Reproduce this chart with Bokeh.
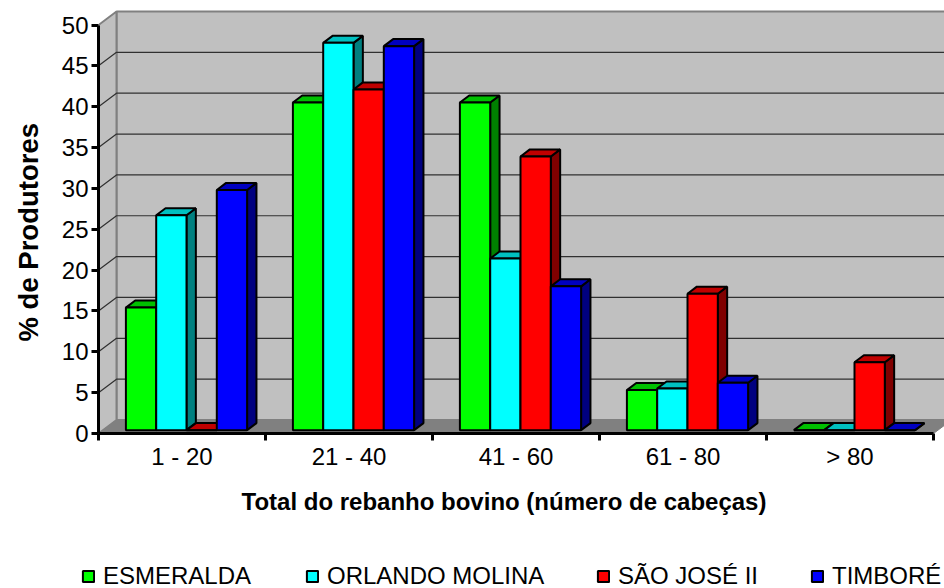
from bokeh.embed import file_html
from bokeh.layouts import column
from bokeh.models import FixedTicker, Legend, LegendItem, Range1d, Title
from bokeh.plotting import figure
from bokeh.resources import INLINE

categories = ["1 - 20", "21 - 40", "41 - 60", "61 - 80", "> 80"]
series_names = ["ESMERALDA", "ORLANDO MOLINA", "SÃO JOSÉ II", "TIMBORÉ"]
esmeralda = [15.0, 40.1, 40.1, 4.9, 0.0]
orlando_molina = [26.3, 47.4, 21.0, 5.1, 0.0]
sao_jose = [0.0, 41.7, 33.5, 16.7, 8.3]
timbore = [29.4, 47.0, 17.6, 5.8, 0.0]
y_ticks = [0, 5, 10, 15, 20, 25, 30, 35, 40, 45, 50]
front_colors = ["#00FF00", "#00FFFF", "#FF0000", "#0000FF"]
top_colors = ["#00C000", "#00C0C0", "#C00000", "#0000C0"]
side_colors = ["#008000", "#008080", "#800000", "#000080"]

WIDTH = 944
CHART_H, LEGEND_H = 540, 48
LEFT, BOTTOM = 98, 107
PX_X = 167.0    # pixels per category
PX_Y = 8.17     # pixels per percentage point
DX = 18 / PX_X  # oblique depth of the chart box
DY = 13.5 / PX_Y
BAR_W = 30.3 / PX_X
BAR_INSET = 0.25  # bars start a quarter of the way into the box
BAR_DEPTH = 0.52
FONT = "Liberation Sans"

p = figure(
    width=WIDTH, height=CHART_H, output_backend="svg", toolbar_location=None,
    x_range=Range1d(0, (WIDTH - LEFT) / PX_X),
    y_range=Range1d(0, (CHART_H - BOTTOM) / PX_Y),
    min_border_left=LEFT, min_border_right=0, min_border_top=0, min_border_bottom=BOTTOM,
    frame_align=False,
)
p.grid.visible = False
p.outline_line_color = None

# Walls and floor of the box
n = len(categories)
top = y_ticks[-1]
p.patch([DX, n + DX, n + DX, DX], [DY, DY, top + DY, top + DY],
        fill_color="#C0C0C0", line_color="#808080", line_width=2)
p.patch([0, DX, DX, 0], [0, DY, top + DY, top],
        fill_color="#C0C0C0", line_color="#808080", line_width=2)
p.patch([0, DX, n + DX, n], [0, DY, DY, 0],
        fill_color="#808080", line_color="#808080", line_width=1)

# Gridlines run along the side wall and across the back wall
for t in y_ticks[1:-1]:
    p.line([0, DX, n + DX], [t, t + DY, t + DY], line_color="#303030", line_width=1.2)

# Bars are painted left to right so each front hides the neighbour behind it
all_series = [esmeralda, orlando_molina, sao_jose, timbore]
for s, values in enumerate(all_series):
    fx, fy, tx, ty, sx, sy = [], [], [], [], [], []
    for c, v in enumerate(values):
        group_w = BAR_W * len(all_series)
        x0 = c + BAR_INSET * DX + (1 - group_w) / 2 + s * BAR_W
        x1 = x0 + BAR_W
        y0 = BAR_INSET * DY
        y1 = y0 + v
        ox, oy = BAR_DEPTH * DX, BAR_DEPTH * DY
        fx.append([x0, x1, x1, x0])
        fy.append([y0, y0, y1, y1])
        tx.append([x0, x1, x1 + ox, x0 + ox])
        ty.append([y1, y1, y1 + oy, y1 + oy])
        sx.append([x1, x1 + ox, x1 + ox, x1])
        sy.append([y0, y0 + oy, y1 + oy, y1])
    p.patches(sx, sy, fill_color=side_colors[s], line_color="black", line_width=2)
    p.patches(tx, ty, fill_color=top_colors[s], line_color="black", line_width=2)
    p.patches(fx, fy, fill_color=front_colors[s], line_color="black", line_width=2)

# Axes
yax = p.yaxis[0]
yax.ticker = FixedTicker(ticks=y_ticks)
yax.bounds = (0, top)
yax.axis_line_width = 3
yax.axis_line_color = "black"
yax.major_tick_line_color = "black"
yax.major_tick_line_width = 3
yax.major_tick_out = 7
yax.major_tick_in = 0
yax.minor_tick_line_color = None
yax.major_label_text_font = FONT
yax.major_label_text_font_size = "24px"
yax.major_label_text_color = "black"
yax.major_label_standoff = 3

xax = p.xaxis[0]
xax.ticker = FixedTicker(ticks=[i + 0.5 for i in range(n)], minor_ticks=list(range(n + 1)))
xax.major_label_overrides = {i + 0.5: c for i, c in enumerate(categories)}
xax.bounds = (0, n)
xax.axis_line_width = 3
xax.axis_line_color = "black"
xax.major_tick_line_color = None
xax.major_tick_out = 0
xax.major_tick_in = 0
xax.minor_tick_line_color = "black"
xax.minor_tick_line_width = 3
xax.minor_tick_out = 7
xax.minor_tick_in = 0
xax.major_label_text_font = FONT
xax.major_label_text_font_size = "24px"
xax.major_label_text_color = "black"
xax.major_label_standoff = 2

# Axis titles are annotations so they can sit off-centre from the frame
p.add_layout(Title(
    text="Total do rebanho bovino (número de cabeças)", align="left", offset=143, standoff=26,
    text_font=FONT, text_font_size="24px", text_font_style="bold", text_color="black",
), "below")
p.add_layout(Title(
    text="% de Produtores", align="left", offset=92, standoff=25, vertical_align="top",
    text_font=FONT, text_font_size="27.5px", text_font_style="bold", text_color="black",
), "left")

# Legend strip: one legend box per series so the entries keep their own spacing
strip = figure(
    width=WIDTH, height=LEGEND_H, output_backend="svg", toolbar_location=None,
    x_range=Range1d(0, WIDTH), y_range=Range1d(0, LEGEND_H),
    min_border=0, x_axis_type=None, y_axis_type=None, frame_align=False,
)
strip.grid.visible = False
strip.outline_line_color = None
for name, fill, lx in zip(series_names, front_colors, [81, 305, 596, 810]):
    # The swatch's source shape lies off the strip; only its legend glyph shows
    swatch = strip.patches([[-40, -30, -30]], [[-40, -40, -30]],
                           fill_color=fill, line_color="black", line_width=2)
    strip.add_layout(Legend(
        items=[LegendItem(label=name, renderers=[swatch])],
        location=(lx, -2),
        background_fill_alpha=0, border_line_color=None,
        margin=0, padding=0,
        glyph_width=14, glyph_height=14, label_standoff=8,
        label_text_font=FONT, label_text_font_size="24px", label_text_color="black",
    ), "center")

page = column(p, strip, spacing=0)
open("out.html", "w").write(file_html(page, INLINE))
